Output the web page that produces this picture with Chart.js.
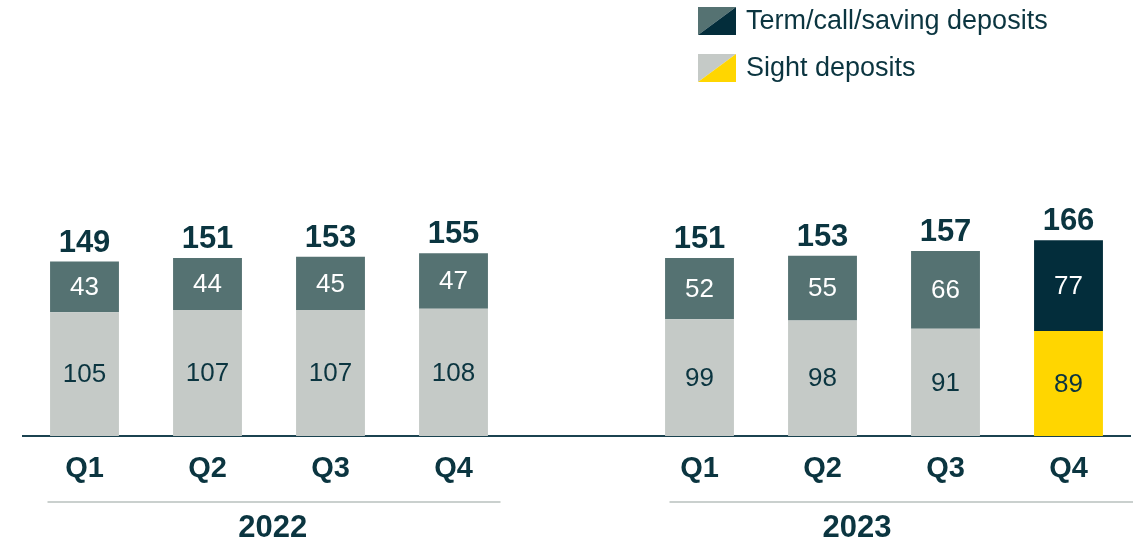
<!DOCTYPE html>
<html>
<head>
<meta charset="utf-8">
<script src="https://cdn.jsdelivr.net/npm/chart.js@4"></script>
<style>
    body { margin: 0; background: #ffffff; }
    canvas { display: block; }
</style>
</head>
<body>
<canvas id="chartDepositos" width="1133" height="545"></canvas>
<script>
// ===== Datos =====
const categorias = ['Q1', 'Q2', 'Q3', 'Q4', '', 'Q1', 'Q2', 'Q3', 'Q4'];
const anios = ['2022', '2023'];
const depositosPlazo = [43, 44, 45, 47, null, 52, 55, 66, 77];
const depositosVista = [105, 107, 107, 108, null, 99, 98, 91, 89];
const totales = [149, 151, 153, 155, null, 151, 153, 157, 166];
const leyenda = ['Term/call/saving deposits', 'Sight deposits'];

// Colores
const colorTexto = '#0b3540';
const colorPlazo = '#557272';
const colorVista = '#c5cac7';
const colorPlazoActual = '#032d3b';
const colorVistaActual = '#ffd600';
const fuente = '"Liberation Sans", Arial, sans-serif';

const ultimo = categorias.length - 1;
const coloresPlazo = categorias.map((c, i) => i === ultimo ? colorPlazoActual : colorPlazo);
const coloresVista = categorias.map((c, i) => i === ultimo ? colorVistaActual : colorVista);

// Etiquetas dentro y encima de las barras
const pluginEtiquetas = {
    id: 'etiquetas',
    afterDatasetsDraw(chart) {
        const ctx = chart.ctx;
        ctx.save();
        ctx.textAlign = 'center';
        ctx.textBaseline = 'middle';
        ctx.font = '26px ' + fuente;
        chart.data.datasets.forEach((ds, d) => {
            const meta = chart.getDatasetMeta(d);
            meta.data.forEach((bar, i) => {
                if (ds.data[i] == null) return;
                const mid = (bar.y + bar.base) / 2;
                ctx.fillStyle = d === 1 ? '#ffffff' : colorTexto;
                ctx.fillText(String(ds.data[i]), bar.x, mid + 1);
            });
        });
        // totales
        const metaTop = chart.getDatasetMeta(1);
        ctx.font = 'bold 31px ' + fuente;
        ctx.textBaseline = 'alphabetic';
        ctx.fillStyle = colorTexto;
        metaTop.data.forEach((bar, i) => {
            if (totales[i] == null) return;
            ctx.fillText(String(totales[i]), bar.x, bar.y - 10);
        });
        ctx.restore();
    }
};

// Años, separadores y leyenda
const pluginAnios = {
    id: 'anios',
    afterDraw(chart) {
        const ctx = chart.ctx;
        const x = chart.scales.x;
        ctx.save();
        const grupos = [
            { desde: 0, hasta: 3, centro: 1.53 },
            { desde: 5, hasta: 8, centro: 6.28 }
        ];
        grupos.forEach((g, k) => {
            const x1 = x.getPixelForValue(g.desde) - 37;
            const x2 = k === 1 ? chart.width : x.getPixelForValue(g.hasta) + 47;
            ctx.strokeStyle = '#b9c1be';
            ctx.lineWidth = 1.5;
            ctx.beginPath();
            ctx.moveTo(k === 1 ? x1 + 7 : x1, 502);
            ctx.lineTo(x2, 502);
            ctx.stroke();
            ctx.font = 'bold 31px ' + fuente;
            ctx.fillStyle = colorTexto;
            ctx.textAlign = 'center';
            ctx.textBaseline = 'middle';
            ctx.fillText(anios[k], x.getPixelForValue(g.centro), 528);
        });

        // leyenda
        const items = [
            { a: colorPlazo, b: colorPlazoActual, y: 7 },
            { a: colorVista, b: colorVistaActual, y: 54 }
        ];
        items.forEach((it, k) => {
            const lx = 698, w = 38, h = 28;
            ctx.fillStyle = it.a;
            ctx.beginPath();
            ctx.moveTo(lx, it.y);
            ctx.lineTo(lx + w, it.y);
            ctx.lineTo(lx, it.y + h);
            ctx.closePath();
            ctx.fill();
            ctx.fillStyle = it.b;
            ctx.beginPath();
            ctx.moveTo(lx + w, it.y);
            ctx.lineTo(lx + w, it.y + h);
            ctx.lineTo(lx, it.y + h);
            ctx.closePath();
            ctx.fill();
            ctx.font = '27px ' + fuente;
            ctx.fillStyle = colorTexto;
            ctx.textAlign = 'left';
            ctx.textBaseline = 'middle';
            ctx.fillText(leyenda[k], 746, it.y + 15);
        });
        ctx.restore();
    }
};

const ctxDep = document.getElementById('chartDepositos');
new Chart(ctxDep, {
    type: 'bar',
    data: {
        labels: categorias,
        datasets: [
            {
                label: leyenda[1],
                data: depositosVista,
                backgroundColor: coloresVista,
                categoryPercentage: 1,
                barPercentage: 0.56
            },
            {
                label: leyenda[0],
                data: depositosPlazo,
                backgroundColor: coloresPlazo,
                categoryPercentage: 1,
                barPercentage: 0.56
            }
        ]
    },
    options: {
        responsive: false,
        animation: false,
        layout: { padding: { left: 23, right: 3, top: 106, bottom: 0 } },
        plugins: {
            legend: { display: false },
            tooltip: { enabled: false }
        },
        scales: {
            x: {
                stacked: true,
                grid: { display: false, drawTicks: false },
                border: { display: true, color: '#1b4350', width: 2 },
                ticks: {
                    color: colorTexto,
                    font: { family: fuente, size: 29, weight: 'bold' },
                    padding: 16,
                    maxRotation: 0,
                    autoSkip: false
                },
                afterFit(scale) { scale.height = 109; }
            },
            y: {
                stacked: true,
                display: false,
                min: 0,
                max: 280
            }
        }
    },
    plugins: [pluginEtiquetas, pluginAnios]
});
</script>
</body>
</html>
